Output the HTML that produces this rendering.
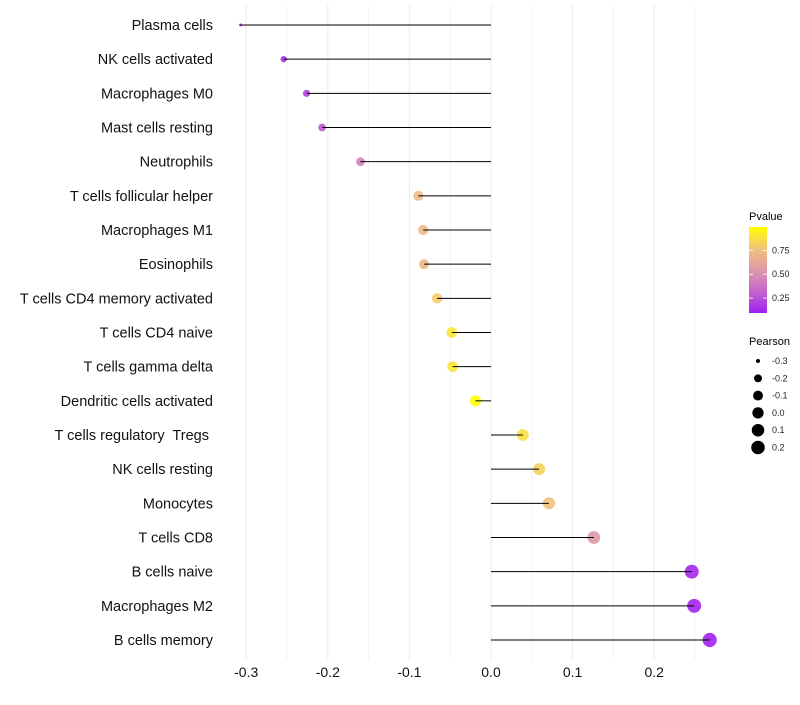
<!DOCTYPE html>
<html><head><meta charset="utf-8"><style>
body{margin:0;background:#fff;}
svg text{font-family:"Liberation Sans",sans-serif;white-space:pre;}
</style></head><body>
<svg id="chart" width="800" height="700" xmlns="http://www.w3.org/2000/svg">
<defs><linearGradient id="pg" x1="0" y1="1" x2="0" y2="0">
<stop offset="0" stop-color="#a020f0"/><stop offset="0.23" stop-color="#c160d0"/><stop offset="0.455" stop-color="#da90b0"/><stop offset="0.735" stop-color="#f0c080"/><stop offset="1" stop-color="#ffff00"/>
</linearGradient></defs>
<g id="grid"></g>
<g id="marks"></g>
<g id="labels"></g>
<g id="xt"></g>
<g>
<text x="749" y="220" font-size="11">Pvalue</text>
<rect x="749" y="227" width="18" height="86" fill="url(#pg)"/>
<g id="cbt"></g>
</g>
<g id="sleg">
<text x="749" y="345" font-size="11">Pearson</text>
</g>
</svg>
<script>
const categories=["Plasma cells","NK cells activated","Macrophages M0","Mast cells resting","Neutrophils","T cells follicular helper","Macrophages M1","Eosinophils","T cells CD4 memory activated","T cells CD4 naive","T cells gamma delta","Dendritic cells activated","T cells regulatory  Tregs ","NK cells resting","Monocytes","T cells CD8","B cells naive","Macrophages M2","B cells memory"];
const pearson=[-0.307,-0.254,-0.226,-0.207,-0.160,-0.089,-0.083,-0.082,-0.066,-0.048,-0.047,-0.019,0.039,0.059,0.071,0.126,0.246,0.249,0.268];
const pvalue=[0.10,0.15,0.20,0.28,0.45,0.72,0.72,0.72,0.80,0.90,0.90,0.99,0.87,0.82,0.76,0.55,0.12,0.11,0.10];
const xTicks=[-0.3,-0.2,-0.1,0.0,0.1,0.2];
const xTickLabels=["-0.3","-0.2","-0.1","0.0","0.1","0.2"];
const cbTicks=[0.25,0.5,0.75];
const cbTickLabels=["0.25","0.50","0.75"];
const sizeLegend=[-0.3,-0.2,-0.1,0.0,0.1,0.2];
const sizeLegendLabels=["-0.3","-0.2","-0.1","0.0","0.1","0.2"];
const NS="http://www.w3.org/2000/svg";
const X=v=>491+v*816;
const Y=i=>25+i*(615/18);
const pmin=0.094,pmax=0.995;
const smin=-0.307,smax=0.268;
const R=v=>Math.sqrt(2.2+Math.pow(Math.max(0,(v-smin)/(smax-smin)),0.75)*(50-2.2));
const stops=[[0,[160,32,240]],[0.23,[193,96,208]],[0.455,[218,144,176]],[0.735,[240,192,128]],[1,[255,255,0]]];
function col(p){let t=(p-pmin)/(pmax-pmin);t=Math.max(0,Math.min(1,t));for(let k=1;k<stops.length;k++){if(t<=stops[k][0]){const a=stops[k-1],b=stops[k];const f=(t-a[0])/(b[0]-a[0]);return "rgb("+a[1].map((c,j)=>Math.round(c+(b[1][j]-c)*f)).join(",")+")";}}return "rgb(255,255,0)";}
function mk(t,a,p){const e=document.createElementNS(NS,t);for(const k in a)e.setAttribute(k,a[k]);p.appendChild(e);return e;}
const grid=document.getElementById('grid');
for(let v=-0.3;v<=0.251;v+=0.05){const l=mk('line',{x1:X(v),x2:X(v),y1:5,y2:660,stroke:Math.abs(Math.round(v*20))%2?"#f3f3f3":"#ebebeb","stroke-width":1},grid);

}
const marks=document.getElementById('marks'),labels=document.getElementById('labels');
categories.forEach((c,i)=>{
const pt=mk('circle',{cx:X(pearson[i]),cy:Y(i),r:R(pearson[i]),fill:col(pvalue[i]),"fill-opacity":0.9},marks);


const ln=mk('line',{x1:X(0),x2:X(pearson[i]),y1:Y(i),y2:Y(i),stroke:"#000","stroke-width":1},marks);


const t=mk('text',{x:213,y:Y(i)+5,"text-anchor":"end","font-size":14.5,fill:"#111"},labels);t.textContent=c;


});
const xt=document.getElementById('xt');
xTicks.forEach((v,i)=>{const t=mk('text',{x:X(v),y:677,"text-anchor":"middle","font-size":14,fill:"#111"},xt);t.textContent=xTickLabels[i];

});
const cbt=document.getElementById('cbt');
cbTicks.forEach((v,i)=>{const y=313-(v-pmin)/(pmax-pmin)*86;
const l=mk('line',{x1:749,x2:753,y1:y,y2:y,stroke:"#fff","stroke-width":0.8},cbt);
const l2=mk('line',{x1:763,x2:767,y1:y,y2:y,stroke:"#fff","stroke-width":0.8},cbt);
const t=mk('text',{x:772,y:y+3,"font-size":9,fill:"#222"},cbt);t.textContent=cbTickLabels[i];

});
const sleg=document.getElementById('sleg');
sizeLegend.forEach((v,i)=>{const y=361+i*17.3;
const c=mk('circle',{cx:758,cy:y,r:R(v),fill:"#000"},sleg);


const t=mk('text',{x:772,y:y+3,"font-size":9,fill:"#222"},sleg);t.textContent=sizeLegendLabels[i];

});
</script>
</body></html>
